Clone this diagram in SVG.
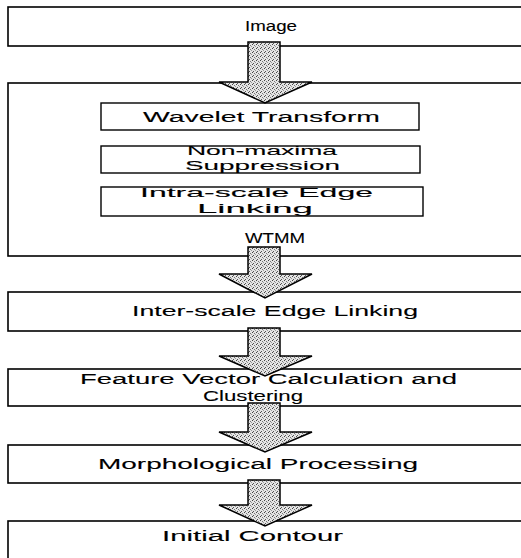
<svg xmlns="http://www.w3.org/2000/svg" width="521" height="558" viewBox="0 0 521 558">
<style>
.box{fill:#fff;stroke:#000;stroke-width:1.6}
.sub{fill:#fff;stroke:#000;stroke-width:1.4}
.t{font-family:"Liberation Sans",Arial,sans-serif;font-size:14px;fill:#000;stroke:#000;stroke-width:0.1}
.s{font-size:12.5px}
.arr{fill:url(#stip);stroke:#000;stroke-width:1.5;stroke-linejoin:miter}
</style>
<defs>
<pattern id="stip" width="4" height="4" patternUnits="userSpaceOnUse">
<rect width="4" height="4" fill="#e4e4e4"/>
<rect x="0" y="0" width="1" height="1" fill="#444"/>
<rect x="2" y="1" width="1" height="1" fill="#777"/>
<rect x="1" y="3" width="1" height="1" fill="#555"/>
<rect x="3" y="2" width="1" height="1" fill="#999"/>
</pattern>
</defs>
<rect width="521" height="558" fill="#fff"/>

<g id="image">
<rect class="box" x="8" y="7" width="530" height="39"/>
<text class="t" x="245" y="31" textLength="52" lengthAdjust="spacingAndGlyphs">Image</text>
</g>

<g id="wtmm">
<rect class="box" x="8" y="83" width="530" height="173"/>
<text class="t" x="245" y="243" textLength="60" lengthAdjust="spacingAndGlyphs">WTMM</text>
</g>

<g id="wavelet">
<rect class="sub" x="101" y="103" width="318" height="27"/>
<text class="t" x="143" y="122" textLength="237" lengthAdjust="spacingAndGlyphs">Wavelet Transform</text>
</g>

<g id="nonmax">
<rect class="sub" x="101" y="146" width="319" height="27"/>
<text class="t s" x="187" y="155" textLength="150" lengthAdjust="spacingAndGlyphs">Non-maxima</text>
<text class="t s" x="185" y="170" textLength="155" lengthAdjust="spacingAndGlyphs">Suppression</text>
</g>

<g id="intra">
<rect class="sub" x="101" y="187" width="322" height="29"/>
<text class="t s" x="140" y="197" textLength="233" lengthAdjust="spacingAndGlyphs">Intra-scale Edge</text>
<text class="t s" x="197" y="213" textLength="116" lengthAdjust="spacingAndGlyphs">Linking</text>
</g>

<g id="interscale">
<rect class="box" x="8" y="292" width="530" height="39"/>
<text class="t" x="132" y="316" textLength="286" lengthAdjust="spacingAndGlyphs">Inter-scale Edge Linking</text>
</g>

<g id="feature">
<rect class="box" x="8" y="369" width="530" height="37"/>
<text class="t" x="80" y="384" textLength="377" lengthAdjust="spacingAndGlyphs">Feature Vector Calculation and</text>
<text class="t" x="203" y="401" textLength="100" lengthAdjust="spacingAndGlyphs">Clustering</text>
</g>

<g id="morph">
<rect class="box" x="8" y="445" width="530" height="38"/>
<text class="t" x="98" y="469" textLength="320" lengthAdjust="spacingAndGlyphs">Morphological Processing</text>
</g>

<g id="contour">
<rect class="box" x="8" y="521" width="530" height="50"/>
<text class="t" x="162" y="541" textLength="181" lengthAdjust="spacingAndGlyphs">Initial Contour</text>
</g>

<g id="connectors">
<path class="arr" d="M248,42 H280 V82 H312 L265,103 L219,82 H248 Z"/>
<path class="arr" d="M248,247 H280 V274 H312 L265,298 L219,274 H248 Z"/>
<path class="arr" d="M248,328 H280 V356 H312 L265,376 L219,356 H248 Z"/>
<path class="arr" d="M248,403 H280 V432 H312 L265,452 L219,432 H248 Z"/>
<path class="arr" d="M248,480 H280 V505 H312 L265,526 L219,505 H248 Z"/>
</g>
</svg>
